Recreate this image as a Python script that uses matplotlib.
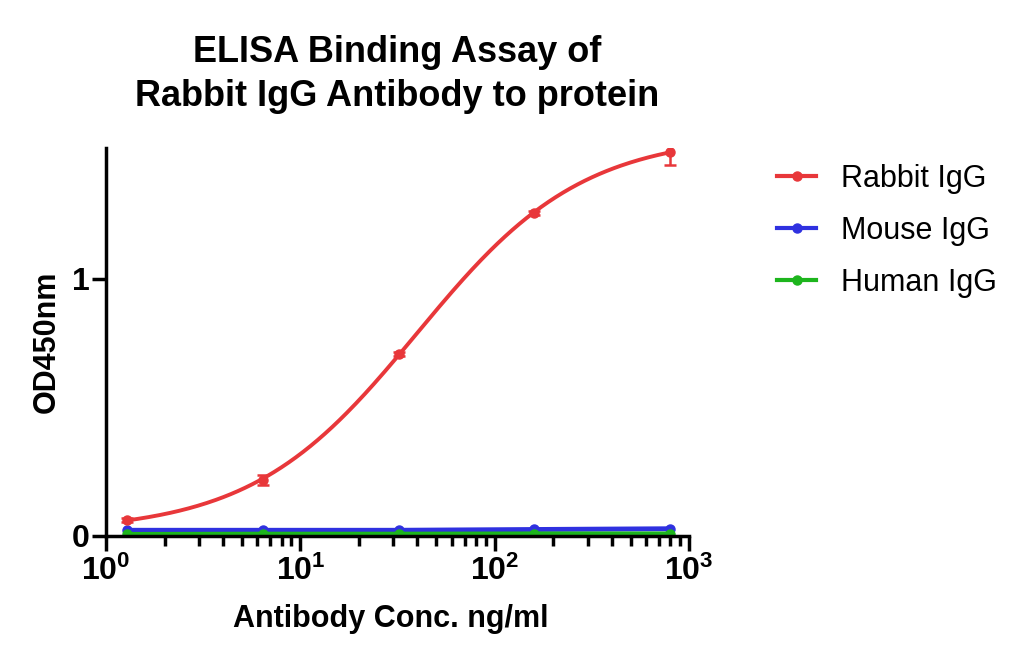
import numpy as np
import matplotlib
matplotlib.use("Agg")
import matplotlib.pyplot as plt
from matplotlib.ticker import LogLocator, NullFormatter, FixedLocator

plt.rcParams['font.family'] = ['Liberation Sans', 'DejaVu Sans']
plt.rcParams['mathtext.fontset'] = 'custom'
plt.rcParams['mathtext.rm'] = 'Liberation Sans:bold'
plt.rcParams['mathtext.bf'] = 'Liberation Sans:bold'

# 数据 (ng/ml, OD450)
conc = [1.28, 6.4, 32, 160, 800]
rabbit = [0.062, 0.218, 0.708, 1.257, 1.494]
rabbit_err = [0.006, 0.02, 0.008, 0.008, 0.05]
mouse = [0.022, 0.022, 0.022, 0.025, 0.028]
human = [0.006, 0.007, 0.007, 0.008, 0.008]

red = '#e8373a'
blue = '#2f31e0'
green = '#1db51d'


# 4PL 拟合 (网格搜索 logEC50 / hill, 线性求 bottom / top)
def fit_4pl(x, y):
    lx = np.log10(x)
    y = np.asarray(y)
    best = None
    for lec in np.linspace(0, 3.5, 351):
        for h in np.linspace(0.3, 3, 271):
            s = 1 / (1 + 10 ** ((lec - lx) * h))
            A = np.column_stack([1 - s, s])
            coef, *_ = np.linalg.lstsq(A, y, rcond=None)
            r = np.sum((A @ coef - y) ** 2)
            if best is None or r < best[0]:
                best = (r, lec, h, coef)
    _, lec, h, (bot, top) = best
    return lambda xx: bot + (top - bot) / (1 + 10 ** ((lec - np.log10(xx)) * h))


f_rabbit = fit_4pl(conc, rabbit)
xs = np.logspace(np.log10(conc[0]), np.log10(conc[-1]), 300)

fig = plt.figure(figsize=(10.24, 6.6), dpi=100)
ax = fig.add_axes([0.1035, 0.188, 0.5695, 0.588])

ax.plot(xs, f_rabbit(xs), color=red, lw=2.8)
ax.errorbar(conc, rabbit, yerr=rabbit_err, fmt='o', color=red, ms=6.5,
            capsize=4, elinewidth=1.8, capthick=1.8)
ax.plot(conc, mouse, '-o', color=blue, lw=3.5, ms=6.5)
ax.plot(conc, human, '-o', color=green, lw=3.5, ms=6.5)

# 图例
ax.plot([], [], '-o', color=red, lw=3, ms=6.5, label='Rabbit IgG')
ax.plot([], [], '-o', color=blue, lw=3, ms=6.5, label='Mouse IgG')
ax.plot([], [], '-o', color=green, lw=3, ms=6.5, label='Human IgG')
h, l = ax.get_legend_handles_labels()
ax.legend(h[-3:], l[-3:], loc='upper left', bbox_to_anchor=(1.103, 1.03),
          frameon=False, fontsize=22, handlelength=1.3, labelspacing=0.72,
          handletextpad=0.8)

ax.set_xscale('log')
ax.set_xlim(1, 1000)
ax.set_ylim(0, 1.51)
ax.yaxis.set_major_locator(FixedLocator([0, 1]))
ax.xaxis.set_major_locator(LogLocator(base=10))
ax.xaxis.set_minor_locator(LogLocator(base=10, subs=np.arange(2, 10)))
ax.xaxis.set_minor_formatter(NullFormatter())

for s in ['top', 'right']:
    ax.spines[s].set_visible(False)
for s in ['left', 'bottom']:
    ax.spines[s].set_linewidth(2.5)

ax.tick_params(which='major', length=11, width=2.5, labelsize=23, direction='out')
ax.tick_params(axis='y', which='major', length=10, pad=2)
ax.tick_params(which='minor', length=7, width=2.5, direction='out')
for t in ax.get_xticklabels() + ax.get_yticklabels():
    t.set_fontweight('bold')

ax.set_xlabel('Antibody Conc. ng/ml', fontsize=22, fontweight='bold')
ax.xaxis.set_label_coords(0.488, -0.175)
ax.set_ylabel('OD450nm', fontsize=22, fontweight='bold', labelpad=7)
ax.set_title('ELISA Binding Assay of\nRabbit IgG Antibody to protein',
             fontsize=26, fontweight='bold', pad=30, linespacing=1.35)

fig.savefig('out.png', dpi=100)
